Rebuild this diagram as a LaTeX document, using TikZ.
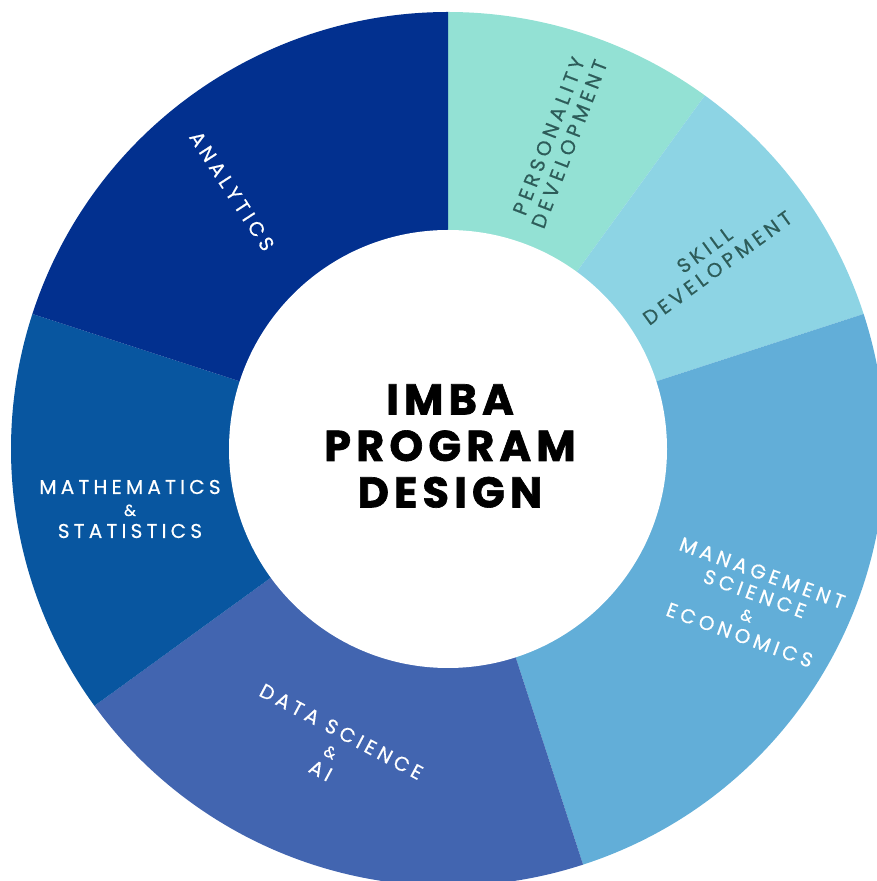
\documentclass[tikz,border=0pt]{standalone}
\usepackage{fontspec}
\newfontfamily\lblfont[LetterSpace=21, FakeBold=0.5]{Poppins}
\newfontfamily\ttlfont[LetterSpace=12, BoldFeatures={FakeBold=1.5}]{Poppins}
\definecolor{cAna}{HTML}{02308F}
\definecolor{cMath}{HTML}{0856A0}
\definecolor{cData}{HTML}{4265B0}
\definecolor{cMgmt}{HTML}{62AED8}
\definecolor{cSkill}{HTML}{8DD4E4}
\definecolor{cPers}{HTML}{93E1D4}
\definecolor{cDark}{HTML}{2D5C59}
\begin{document}
\begin{tikzpicture}[x=1pt,y=1pt,
  seglabel/.style={align=center, font=\lblfont\fontsize{20}{22}\selectfont, text=white, inner sep=0pt},
  darklabel/.style={seglabel, text=cDark},
  title/.style={align=center, font=\ttlfont\bfseries\fontsize{43}{46.5}\selectfont, text=black, inner sep=0pt},
  hub/.style={circle, fill=white, minimum size=438pt, inner sep=0pt}]
\useasboundingbox (0,0) rectangle (877,881);
\coordinate (C) at (448,432);
\begin{scope}
\clip (0,0) rectangle (877,881);
\fill[cPers]  (C) -- ++(54:437)   arc[start angle=54,  end angle=90,  radius=437] -- cycle;
\fill[cSkill] (C) -- ++(18:437)   arc[start angle=18,  end angle=54,  radius=437] -- cycle;
\fill[cMgmt]  (C) -- ++(-72:437)  arc[start angle=-72, end angle=18,  radius=437] -- cycle;
\fill[cData]  (C) -- ++(-144:437) arc[start angle=-144,end angle=-72, radius=437] -- cycle;
\fill[cMath]  (C) -- ++(162:437)  arc[start angle=162, end angle=216, radius=437] -- cycle;
\fill[cAna]   (C) -- ++(90:437)   arc[start angle=90,  end angle=162, radius=437] -- cycle;
\end{scope}
\node[hub] (hubc) at (C) {};
\node[title] (ttl) at (450,435) {IMBA\\PROGRAM\\DESIGN};
\node[seglabel, rotate=-57] (ana) at (232,690) {ANALYTICS};
\node[darklabel, rotate=69] (pers) at (559,741) {PERSONALITY\\DEVELOPMENT};
\node[darklabel, rotate=36] (skill) at (711,622) {SKILL\\DEVELOPMENT};
\node[seglabel, rotate=-20] (mgmt) at (751,277) {MANAGEMENT\\SCIENCE\\{\fontsize{16}{22}\selectfont\&}\\ECONOMICS};
\node[seglabel] (math) at (130,372) {MATHEMATICS\\{\fontsize{16}{22}\selectfont\&}\\STATISTICS};
\node[seglabel, rotate=-28] (data) at (331,130) {DATA SCIENCE\\{\fontsize{16}{22}\selectfont\&}\\AI};
\end{tikzpicture}
\end{document}
